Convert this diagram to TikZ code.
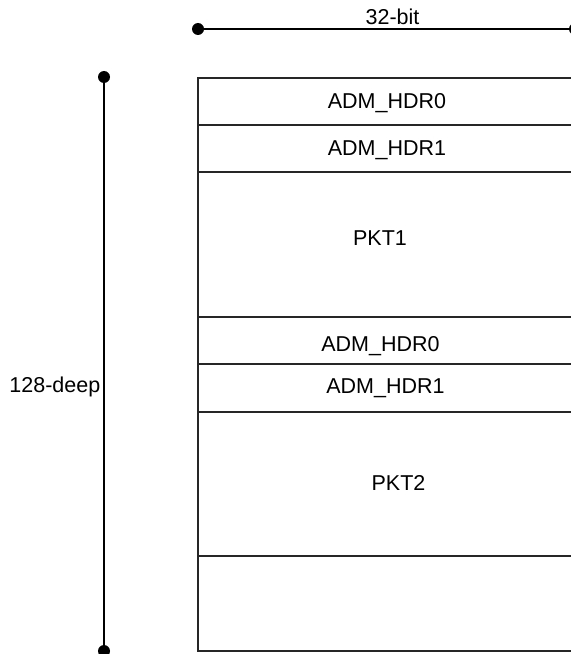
\documentclass[tikz,border=0pt]{standalone}
\usepackage{fontspec}
\setmainfont{Liberation Sans}
\tikzset{
  lbl/.style={inner sep=0pt, anchor=center, font=\fontsize{21.5bp}{25bp}\selectfont},
  rowline/.style={line width=1.5bp, black!85},
  dimline/.style={line width=1.5bp, black},
  dimdot/.style={circle, fill=black, inner sep=0pt, minimum size=12bp}
}
\begin{document}
\begin{tikzpicture}[x=1bp,y=-1bp]
\useasboundingbox (0,0) rectangle (571,654);
\begin{scope}
\clip (0,0) rectangle (571,654);
% memory box
\draw[rowline] (585,78) -- (198,78) -- (198,651) -- (585,651);
\foreach \yy in {125,172,317,364,412,556}{\draw[rowline] (198,\yy) -- (585,\yy);}
% dimension lines
\node[dimdot] (hL) at (198,29) {};
\node[dimdot] (hR) at (575,29) {};
\draw[dimline] (hL.center) -- (hR.center);
\node[dimdot] (vT) at (104,77) {};
\node[dimdot] (vB) at (104,651) {};
\draw[dimline] (vT.center) -- (vB.center);
\end{scope}
% labels
\node[lbl] (w) at (392.5,17) {32-bit};
\node[lbl, anchor=east] (d) at (100.5,387) {128-deep};
\node[lbl] (h0a) at (387,103.5) {ADM\_HDR0};
\node[lbl] (h1a) at (387,150) {ADM\_HDR1};
\node[lbl] (p1) at (380,238.5) {PKT1};
\node[lbl] (h0b) at (380.5,346) {ADM\_HDR0};
\node[lbl] (h1b) at (385.5,388.5) {ADM\_HDR1};
\node[lbl] (p2) at (398.5,483) {PKT2};
\end{tikzpicture}
\end{document}
